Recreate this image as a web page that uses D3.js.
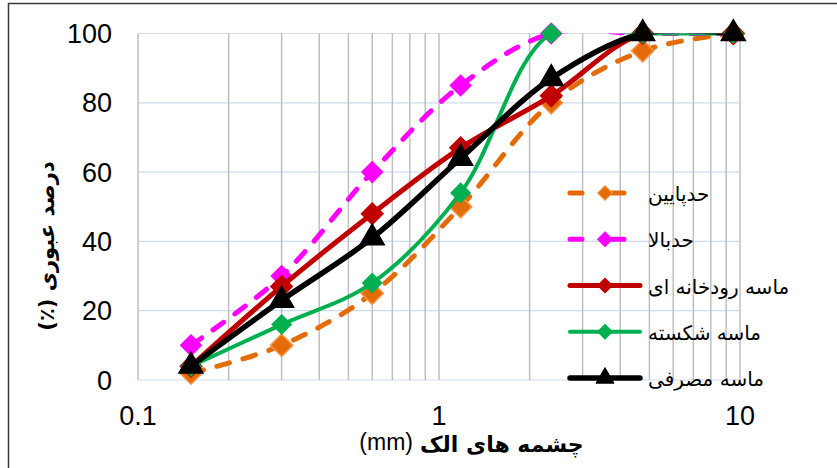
<!DOCTYPE html>
<html>
<head>
<meta charset="utf-8">
<script src="https://cdn.jsdelivr.net/npm/d3@7"></script>
<style>
    body { margin: 0; background: #fff; }
    svg { display: block; }
</style>
</head>
<body>
<div id="chart"></div>
<script>
// Données : dimensions des tamis (mm) et pourcentages passants
const sieveSizes = [0.15, 0.3, 0.6, 1.18, 2.36, 4.75, 9.5];
const lowerLimit = [2, 10, 25, 50, 80, 95, 100];
const upperLimit = [10, 30, 60, 85, 100, 100, 100];
const riverSand = [4, 27, 48, 67, 82, 100, 100];
const crushedSand = [4, 16, 28, 54, 100, 100, 100];
const usedSand = [4, 23, 41, 64, 87, 100, 100];

const seriesNames = ["حدپایین", "حدبالا", "ماسه رودخانه ای", "ماسه شکسته", "ماسه مصرفی"];
const yTicks = [0, 20, 40, 60, 80, 100];
const xTicks = [0.1, 1, 10];

const series = [
    { name: seriesNames[0], values: lowerLimit, color: "#E36C09", width: 5, dash: "13,14", marker: "diamond", size: 250, mstroke: "#F79646" },
    { name: seriesNames[1], values: upperLimit, color: "#FF00FF", width: 5, dash: "13,14", marker: "diamond", size: 210, mstroke: "#FF00FF" },
    { name: seriesNames[2], values: riverSand, color: "#C00000", width: 5, dash: null, marker: "diamond", size: 230, mstroke: "#C00000" },
    { name: seriesNames[3], values: crushedSand, color: "#00B050", width: 4, dash: null, marker: "diamond", size: 180, mstroke: "#00B050" },
    { name: seriesNames[4], values: usedSand, color: "#000000", width: 5.5, dash: null, marker: "triangle", size: 250, mstroke: "#000000" }
];

const width = 837, height = 468;
const svg = d3.select("#chart").append("svg")
    .attr("width", width).attr("height", height);

// cadre extérieur
svg.append("rect")
    .attr("x", 8.5).attr("y", 3.5)
    .attr("width", 840).attr("height", 470)
    .attr("fill", "white")
    .attr("stroke", "#3a3a3a").attr("stroke-width", 1.5);

const x = d3.scaleLog().domain([0.1, 10]).range([138, 740]);
const y = d3.scaleLinear().domain([0, 100]).range([380, 33.5]);

// zone de tracé : les courbes lissées sont coupées au-dessus de 100
svg.append("clipPath").attr("id", "plotClip")
    .append("rect")
    .attr("x", 0).attr("y", y(100))
    .attr("width", width).attr("height", height - y(100));

// grille horizontale
svg.append("g")
    .selectAll("line")
    .data(yTicks)
    .enter().append("line")
    .attr("x1", x(0.1)).attr("x2", x(10))
    .attr("y1", d => y(d)).attr("y2", d => y(d))
    .attr("stroke", "#D0DCEC").attr("stroke-width", 1.2);

// grille verticale (log mineure)
const minorTicks = x.ticks();
svg.append("g")
    .selectAll("line")
    .data(minorTicks)
    .enter().append("line")
    .attr("x1", d => x(d)).attr("x2", d => x(d))
    .attr("y1", y(0)).attr("y2", y(100))
    .attr("stroke", "#BFBFBF").attr("stroke-width", 1.5);

// étiquettes des axes
svg.append("g")
    .selectAll("text")
    .data(yTicks)
    .enter().append("text")
    .attr("x", 112).attr("y", d => y(d) + 9.5)
    .attr("text-anchor", "end")
    .style("font-family", "Liberation Sans, Arial, sans-serif")
    .style("font-size", "27px")
    .text(d => d);

svg.append("g")
    .selectAll("text")
    .data(xTicks)
    .enter().append("text")
    .attr("x", d => x(d)).attr("y", 425)
    .attr("text-anchor", "middle")
    .style("font-family", "Liberation Sans, Arial, sans-serif")
    .style("font-size", "27px")
    .text(d => d);

// titre axe x
svg.append("text")
    .attr("x", 420).attr("y", 452)
    .attr("text-anchor", "start")
    .style("font-family", "DejaVu Sans, sans-serif")
    .style("font-size", "22px")
    .style("font-weight", "bold")
    .text("چشمه های الک");

svg.append("text")
    .attr("x", 413).attr("y", 450)
    .attr("text-anchor", "end")
    .style("font-family", "Liberation Sans, Arial, sans-serif")
    .style("font-size", "23px")
    .text("(mm)");

// titre axe y
svg.append("text")
    .attr("transform", "translate(54,246) rotate(-90)")
    .attr("text-anchor", "middle")
    .attr("direction", "rtl")
    .style("font-family", "DejaVu Sans, sans-serif")
    .style("font-size", "21px")
    .style("font-weight", "bold")
    .text("درصد عبوری (٪)");

// courbes lissées
const line = d3.line()
    .x((d, i) => x(sieveSizes[i]))
    .y(d => y(d))
    .curve(d3.curveCatmullRom);

function markerPath(s) {
    return s.marker === "triangle"
        ? d3.symbol().type(d3.symbolTriangle).size(s.size)()
        : d3.symbol().type(d3.symbolSquare).size(s.size)();
}
function markerTransform(s, px, py) {
    return s.marker === "triangle"
        ? `translate(${px},${py})`
        : `translate(${px},${py}) rotate(45)`;
}

series.forEach(s => {
    const g = svg.append("g");
    g.append("path")
        .attr("d", line(s.values))
        .attr("clip-path", "url(#plotClip)")
        .attr("fill", "none")
        .attr("stroke", s.color)
        .attr("stroke-width", s.width)
        .attr("stroke-dasharray", s.dash)
        .attr("stroke-linecap", s.dash ? "round" : "butt")
        .attr("stroke-linejoin", "round");

    g.selectAll(".pt")
        .data(s.values)
        .enter().append("path")
        .attr("class", "pt")
        .attr("d", markerPath(s))
        .attr("transform", (d, i) => markerTransform(s, x(sieveSizes[i]), y(d)))
        .attr("fill", s.color)
        .attr("stroke", s.mstroke)
        .attr("stroke-width", 1.5);
});

// légende
const legendY = d3.scalePoint().domain(seriesNames).range([193, 378]);
const legend = svg.append("g");
series.forEach(s => {
    const ly = legendY(s.name);
    legend.append("line")
        .attr("x1", 570).attr("x2", 640)
        .attr("y1", ly).attr("y2", ly)
        .attr("stroke", s.color)
        .attr("stroke-width", s.width)
        .attr("stroke-dasharray", s.dash ? "12,30" : null)
        .attr("stroke-linecap", "round");
    legend.append("path")
        .attr("d", s.marker === "triangle"
            ? d3.symbol().type(d3.symbolTriangle).size(140)()
            : d3.symbol().type(d3.symbolSquare).size(110)())
        .attr("transform", markerTransform(s, 605, ly))
        .attr("fill", s.color)
        .attr("stroke", s.mstroke)
        .attr("stroke-width", 1);
    legend.append("text")
        .attr("x", 648).attr("y", ly + 8)
        .attr("text-anchor", "start")
        .style("font-family", "DejaVu Sans, sans-serif")
        .style("font-size", "20px")
        .text(s.name);
});
</script>
</body>
</html>
